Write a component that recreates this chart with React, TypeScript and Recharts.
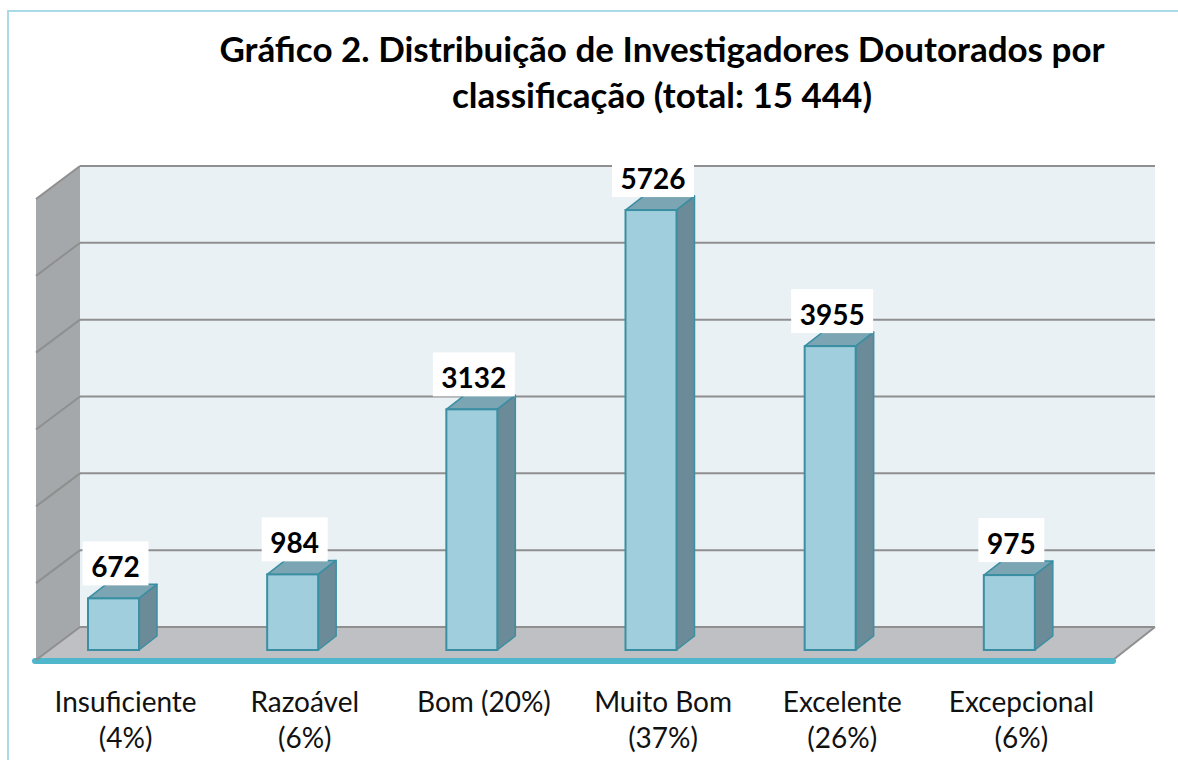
import { BarChart, Bar, XAxis, YAxis, CartesianGrid, LabelList } from 'recharts'

const categories = ['Insuficiente', 'Razoável', 'Bom', 'Muito Bom', 'Excelente', 'Excepcional']
const researchers = [672, 984, 3132, 5726, 3955, 975]
const tickLines = [
  ['Insuficiente', '(4%)'],
  ['Razoável', '(6%)'],
  ['Bom (20%)'],
  ['Muito Bom', '(37%)'],
  ['Excelente', '(26%)'],
  ['Excepcional', '(6%)'],
]
const yTicks = [0, 1000, 2000, 3000, 4000, 5000, 6000]

const chartData = categories.map((category, i) => ({ category, value: researchers[i] }))

// 3d look: walls are drawn from the grid's own rectangle
const DEPTH_X = 44
const DEPTH_Y = 33
const BAR_SHIFT_X = 56
const BAR_SHIFT_Y = 23
const BAR_DX = 18
const BAR_DY = 14

const FONT = 'Lato, "Open Sans", sans-serif'

function gridLine(props: any) {
  const { x1, y1, x2, index, x, y, width, height } = props
  const bottom = y + height
  return (
    <g key={`grid-${index}`}>
      {index === 0 && (
        <g>
          <polygon
            points={`${x - DEPTH_X},${y + DEPTH_Y} ${x},${y} ${x},${bottom} ${x - DEPTH_X},${bottom + DEPTH_Y}`}
            fill="#a5a8ab"
          />
          <polygon
            points={`${x},${bottom} ${x + width},${bottom} ${x + width - DEPTH_X + 2},${bottom + DEPTH_Y} ${x - DEPTH_X},${bottom + DEPTH_Y}`}
            fill="#bfc0c3"
          />
          <line
            x1={x + width}
            y1={bottom}
            x2={x + width - DEPTH_X + 2}
            y2={bottom + DEPTH_Y}
            stroke="#8f8f8f"
            strokeWidth={2}
          />
          <line
            x1={x - DEPTH_X - 1}
            y1={bottom + DEPTH_Y + 1}
            x2={x + width - DEPTH_X + 2}
            y2={bottom + DEPTH_Y + 1}
            stroke="#4fb6cb"
            strokeWidth={6}
            strokeLinecap="round"
          />
        </g>
      )}
      <line x1={x1 - DEPTH_X} y1={y1 + DEPTH_Y} x2={x1} y2={y1} stroke="#8f8f8f" strokeWidth={2} />
      <line x1={x1} y1={y1} x2={x2} y2={y1} stroke="#8f8f8f" strokeWidth={2} />
    </g>
  )
}

function Bar3D(props: any) {
  const { x, y, width, height } = props
  const fx = x - BAR_SHIFT_X
  const fy = y + BAR_SHIFT_Y
  const w = width
  const h = height
  return (
    <g>
      <polygon
        points={`${fx},${fy} ${fx + BAR_DX},${fy - BAR_DY} ${fx + w + BAR_DX},${fy - BAR_DY} ${fx + w},${fy}`}
        fill="#7ca5b4"
        stroke="#3a8fa2"
        strokeWidth={1.5}
        strokeLinejoin="round"
      />
      <polygon
        points={`${fx + w},${fy} ${fx + w + BAR_DX},${fy - BAR_DY} ${fx + w + BAR_DX},${fy + h - BAR_DY} ${fx + w},${fy + h}`}
        fill="#6a8b97"
        stroke="#3a8fa2"
        strokeWidth={1.5}
        strokeLinejoin="round"
      />
      <rect x={fx} y={fy} width={w} height={h} fill="#a1cedc" stroke="#3a8fa2" strokeWidth={2} />
    </g>
  )
}

function ValueLabel(props: any) {
  const { x, y, width, value } = props
  const cx = x - BAR_SHIFT_X + width / 2 + 2
  const bottom = y + BAR_SHIFT_Y - BAR_DY + 1
  const text = String(value)
  const boxW = text.length * 16 + 18
  return (
    <g>
      <rect x={cx - boxW / 2} y={bottom - 44} width={boxW} height={44} fill="#ffffff" />
      <text x={cx} y={bottom - 8} textAnchor="middle" fontSize={28} fontWeight={700} fontFamily={FONT} fill="#000">
        {text}
      </text>
    </g>
  )
}

function CategoryTick(props: any) {
  const { x, y, payload } = props
  const i = categories.indexOf(payload.value)
  const lines = tickLines[i] || [payload.value]
  const cx = x - DEPTH_X
  return (
    <text x={cx} y={y} textAnchor="middle" fontSize={28} fontFamily={FONT} fill="#111">
      {lines.map((line, k) => (
        <tspan key={k} x={cx} dy={k === 0 ? 77 : 36}>
          {line}
        </tspan>
      ))}
    </text>
  )
}

export default function App() {
  return (
    <div
      style={{
        position: 'fixed',
        left: 0,
        top: 0,
        width: 1178,
        height: 760,
        overflow: 'hidden',
        background: '#ffffff',
        fontFamily: FONT,
      }}
    >
      <div
        style={{
          position: 'absolute',
          left: 7,
          top: 10,
          width: 1300,
          height: 900,
          border: '2px solid #a9dbe6',
        }}
      />
      <div style={{ position: 'absolute', left: 0, top: 0 }}>
        <BarChart
          width={1178}
          height={760}
          data={chartData}
          margin={{ top: 166, right: 23, bottom: 103, left: 80 }}
        >
          <CartesianGrid vertical={false} horizontal={gridLine} fill="#e9f1f5" />
          <XAxis dataKey="category" axisLine={false} tickLine={false} interval={0} height={30} tick={CategoryTick} />
          <YAxis hide domain={[0, 6000]} ticks={yTicks} />
          <Bar dataKey="value" barSize={51} shape={Bar3D} isAnimationActive={false}>
            <LabelList dataKey="value" content={ValueLabel} />
          </Bar>
        </BarChart>
      </div>
      <div
        style={{
          position: 'absolute',
          left: 180,
          top: 25,
          width: 964,
          textAlign: 'center',
          fontSize: 35,
          fontWeight: 700,
          lineHeight: '46px',
          color: '#000',
        }}
      >
        Gráfico 2. Distribuição de Investigadores Doutorados por
        <br />
        classificação (total: 15 444)
      </div>
    </div>
  )
}
